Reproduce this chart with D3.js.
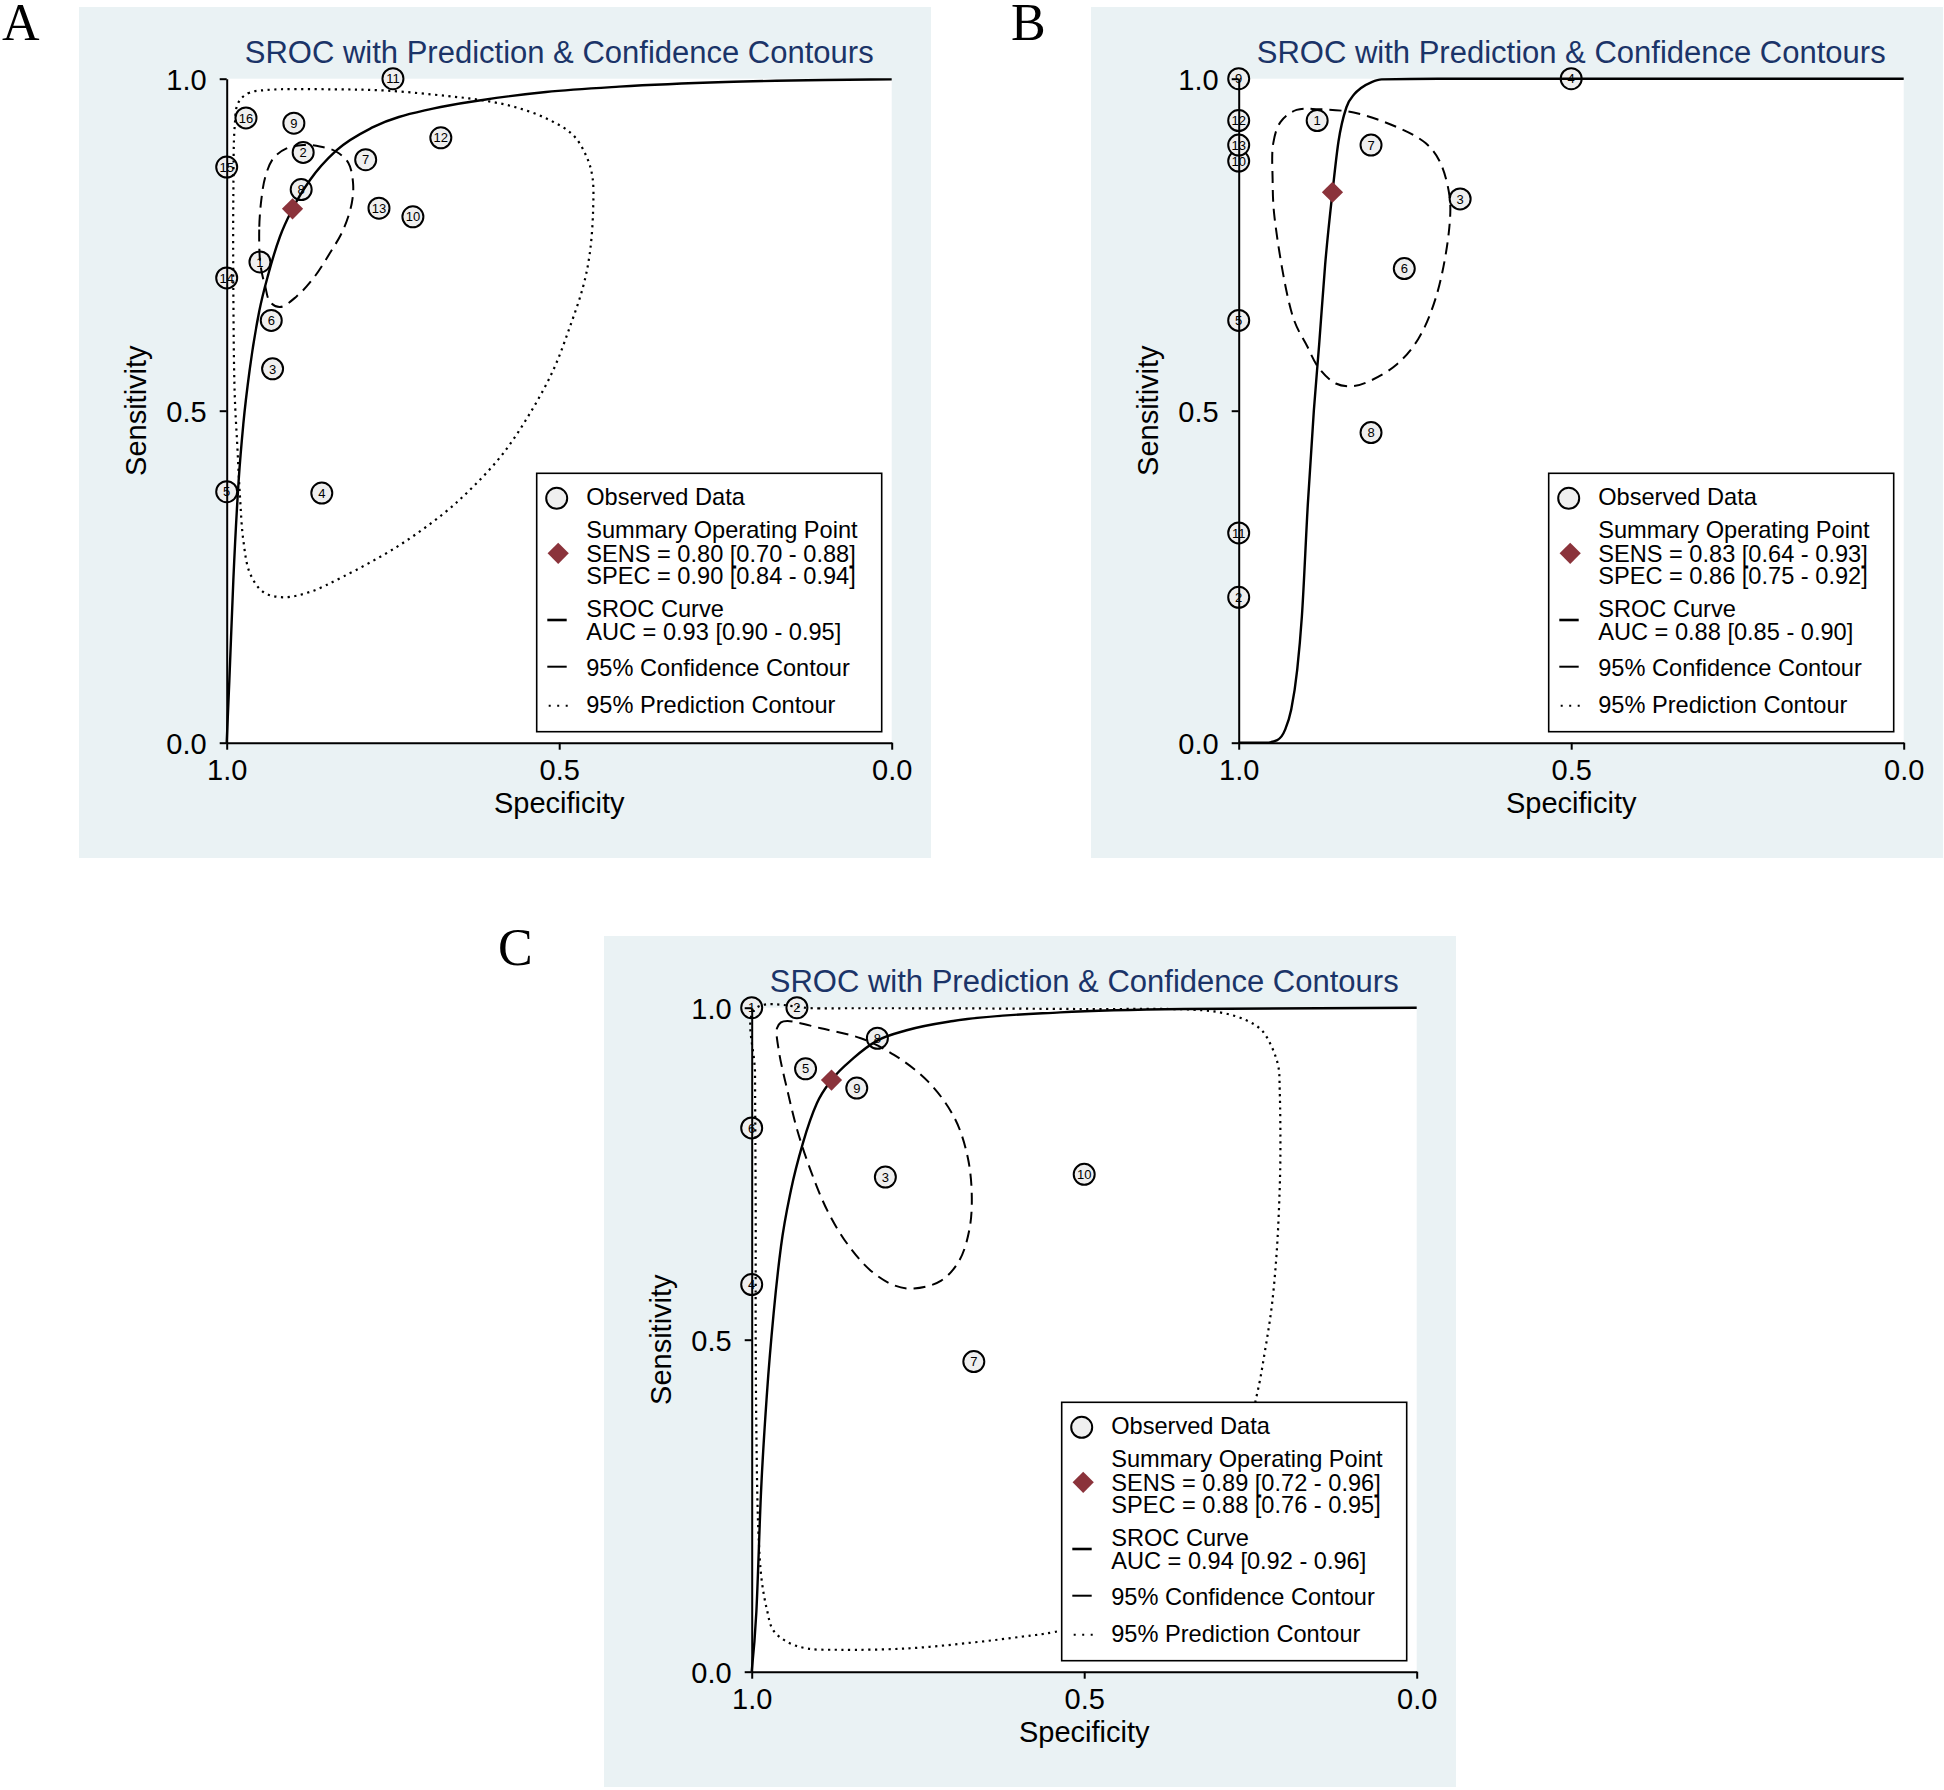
<!DOCTYPE html>
<html>
<head>
<meta charset="utf-8">
<script src="https://cdn.jsdelivr.net/npm/d3@7"></script>
<style>
  body { margin: 0; background: #fff; }
  text { font-family: "Liberation Sans", Arial, sans-serif; }
</style>
</head>
<body>
<div id="chart"></div>
<script>
//---- data: [study id, specificity, sensitivity] ----
var studiesA = [
  [1, 0.950, 0.724], [2, 0.885, 0.889], [3, 0.931, 0.563], [4, 0.857, 0.376],
  [5, 1.000, 0.378], [6, 0.933, 0.636], [7, 0.791, 0.878], [8, 0.888, 0.833],
  [9, 0.899, 0.933], [10, 0.720, 0.792], [11, 0.750, 1.000], [12, 0.678, 0.911],
  [13, 0.771, 0.805], [14, 1.000, 0.700], [15, 1.000, 0.867], [16, 0.971, 0.941]
];
var studiesB = [
  [1, 0.882, 0.937], [2, 1.000, 0.219], [3, 0.667, 0.819], [4, 0.500, 1.000],
  [5, 1.000, 0.636], [6, 0.751, 0.714], [7, 0.801, 0.900], [8, 0.801, 0.467],
  [9, 1.000, 1.000], [10, 1.000, 0.876], [11, 1.000, 0.316], [12, 1.000, 0.937],
  [13, 1.000, 0.900]
];
var studiesC = [
  [1, 1.000, 1.000], [2, 0.932, 1.000], [3, 0.799, 0.745], [4, 1.000, 0.583],
  [5, 0.919, 0.908], [6, 1.000, 0.819], [7, 0.666, 0.467], [8, 0.811, 0.954],
  [9, 0.842, 0.879], [10, 0.500, 0.749]
];

//summary operating points [spec, sens]
var summaryA = [0.901, 0.804];
var summaryB = [0.859, 0.829];
var summaryC = [0.880, 0.891];

//SROC curves [spec, sens], spec decreasing
var srocA = [[1.0, 0.0], [0.996, 0.094], [0.990, 0.245], [0.982, 0.395], [0.975, 0.480],
  [0.965, 0.565], [0.951, 0.650], [0.937, 0.707], [0.920, 0.762], [0.901, 0.804],
  [0.875, 0.847], [0.835, 0.892], [0.780, 0.927], [0.690, 0.955], [0.615, 0.968],
  [0.520, 0.980], [0.410, 0.988], [0.250, 0.995], [0.100, 0.998], [0.0, 0.999]];
var srocB = [[1.0, 0.0], [0.960, 0.0], [0.942, 0.004], [0.930, 0.020], [0.921, 0.050],
  [0.912, 0.110], [0.905, 0.190], [0.896, 0.360], [0.887, 0.500], [0.879, 0.600],
  [0.870, 0.720], [0.859, 0.829], [0.850, 0.905], [0.838, 0.957], [0.826, 0.977],
  [0.816, 0.986], [0.800, 0.995], [0.785, 0.999], [0.700, 1.0], [0.0, 1.0]];
var srocC = [[1.0, 0.0], [0.993, 0.090], [0.986, 0.270], [0.977, 0.420], [0.967, 0.540],
  [0.956, 0.640], [0.941, 0.725], [0.923, 0.796], [0.902, 0.856], [0.880, 0.891],
  [0.847, 0.924], [0.812, 0.950], [0.767, 0.966], [0.697, 0.980], [0.536, 0.993],
  [0.350, 0.998], [0.0, 1.0]];

//95% confidence contours
var confA = [[0.950, 0.727], [0.951, 0.777], [0.948, 0.817], [0.942, 0.852], [0.930, 0.880],
  [0.910, 0.895], [0.885, 0.900], [0.860, 0.898], [0.835, 0.890], [0.817, 0.873],
  [0.810, 0.843], [0.812, 0.812], [0.825, 0.772], [0.845, 0.737], [0.870, 0.699],
  [0.895, 0.672], [0.920, 0.656], [0.935, 0.664], [0.942, 0.687], [0.947, 0.707]];
var confB = [[0.949, 0.849], [0.948, 0.903], [0.937, 0.935], [0.913, 0.953], [0.880, 0.954],
  [0.827, 0.949], [0.762, 0.927], [0.719, 0.903], [0.698, 0.876], [0.683, 0.823],
  [0.684, 0.769], [0.703, 0.672], [0.730, 0.608], [0.762, 0.570], [0.800, 0.546],
  [0.827, 0.537], [0.854, 0.541], [0.880, 0.565], [0.897, 0.597], [0.918, 0.640],
  [0.946, 0.790]];
var confC = [[0.962, 0.969], [0.956, 0.978], [0.946, 0.980], [0.896, 0.969], [0.836, 0.954],
  [0.786, 0.929], [0.735, 0.889], [0.695, 0.834], [0.675, 0.774], [0.669, 0.714],
  [0.673, 0.664], [0.688, 0.619], [0.715, 0.589], [0.756, 0.577], [0.786, 0.582],
  [0.821, 0.604], [0.856, 0.644], [0.886, 0.694], [0.911, 0.754], [0.931, 0.814],
  [0.946, 0.874], [0.959, 0.934]];

//95% prediction contours (none visible in B)
var predA = [[0.983, 0.963], [0.968, 0.978], [0.940, 0.983], [0.840, 0.984], [0.759, 0.982],
  [0.669, 0.974], [0.619, 0.968], [0.569, 0.958], [0.519, 0.940], [0.479, 0.915],
  [0.459, 0.883], [0.450, 0.852], [0.449, 0.802], [0.454, 0.737], [0.464, 0.687],
  [0.484, 0.626], [0.509, 0.561], [0.544, 0.496], [0.584, 0.436], [0.629, 0.386],
  [0.674, 0.345], [0.744, 0.295], [0.825, 0.250], [0.875, 0.227], [0.915, 0.219],
  [0.945, 0.227], [0.965, 0.255], [0.975, 0.305], [0.980, 0.370], [0.984, 0.446],
  [0.988, 0.526], [0.990, 0.677], [0.990, 0.827], [0.988, 0.928]];
var predB = [];
var predC = [[0.995, 0.998], [0.900, 0.999], [0.700, 0.999], [0.500, 0.998], [0.336, 0.997],
  [0.291, 0.992], [0.256, 0.981], [0.233, 0.966], [0.218, 0.941], [0.208, 0.911],
  [0.206, 0.876], [0.205, 0.776], [0.207, 0.700], [0.211, 0.625], [0.218, 0.550],
  [0.228, 0.484], [0.241, 0.414], [0.320, 0.120], [0.544, 0.060], [0.592, 0.053],
  [0.667, 0.044], [0.767, 0.035], [0.867, 0.033], [0.917, 0.035], [0.947, 0.045],
  [0.968, 0.063], [0.977, 0.093], [0.985, 0.138], [0.990, 0.213], [0.993, 0.364],
  [0.994, 0.514], [0.994, 0.700], [0.995, 0.900]];

//legend texts
var sensTxt = ["SENS = 0.80 [0.70 - 0.88]", "SENS = 0.83 [0.64 - 0.93]", "SENS = 0.89 [0.72 - 0.96]"];
var specTxt = ["SPEC = 0.90 [0.84 - 0.94]", "SPEC = 0.86 [0.75 - 0.92]", "SPEC = 0.88 [0.76 - 0.95]"];
var aucTxt = ["AUC = 0.93 [0.90 - 0.95]", "AUC = 0.88 [0.85 - 0.90]", "AUC = 0.94 [0.92 - 0.96]"];
var panelLabels = ["A", "B", "C"];
var tickVals = [0, 0.5, 1];

//---- layout ----
const W = 1944, H = 1790;
const plotW = 665, plotH = 664;
const bgColor = "#eaf2f4";
const titleColor = "#1b3468";
const diamondColor = "#8b333b";
var panelPos = [[0, 0], [1012, 0], [525, 929]];
var labelPos = [[2, 40], [1011, 40], [498, 965]];

var svg = d3.select("#chart").append("svg")
  .attr("width", W)
  .attr("height", H);
svg.append("rect").attr("width", W).attr("height", H).attr("fill", "#fff");

function drawPanel(i, studies, summary, sroc, conf, pred) {
  var g = svg.append("g")
    .attr("transform", "translate(" + panelPos[i][0] + "," + panelPos[i][1] + ")");

  //graph region
  g.append("rect")
    .attr("x", 79).attr("y", 7)
    .attr("width", 852).attr("height", 851)
    .attr("fill", bgColor);

  //title
  g.append("text")
    .attr("x", 226.7 + plotW / 2).attr("y", 63.3)
    .attr("text-anchor", "middle")
    .attr("font-size", 31)
    .attr("fill", titleColor)
    .text("SROC with Prediction & Confidence Contours");

  var plot = g.append("g").attr("transform", "translate(226.7,78.7)");
  plot.append("rect").attr("width", plotW).attr("height", plotH).attr("fill", "#fff");

  var x = d3.scaleLinear().domain([1, 0]).range([0, plotW]);
  var y = d3.scaleLinear().domain([0, 1]).range([plotH, 0]);

  var line = d3.line()
    .x(function(d) { return x(d[0]); })
    .y(function(d) { return y(d[1]); })
    .curve(d3.curveMonotoneX);
  var loop = d3.line()
    .x(function(d) { return x(d[0]); })
    .y(function(d) { return y(d[1]); })
    .curve(d3.curveCatmullRomClosed.alpha(0.5));

  //observed studies
  var obs = plot.selectAll(".obs")
    .data(studies)
    .join("g")
    .attr("class", "obs")
    .attr("transform", function(d) { return "translate(" + x(d[1]) + "," + y(d[2]) + ")"; });
  obs.append("circle")
    .attr("r", 10.5)
    .attr("fill", "#efefef")
    .attr("stroke", "#000")
    .attr("stroke-width", 2);
  obs.append("text")
    .attr("text-anchor", "middle")
    .attr("dy", "0.36em")
    .attr("font-size", 13)
    .text(function(d) { return d[0]; });

  //prediction contour
  if (pred.length > 0) {
    plot.append("path")
      .attr("d", loop(pred))
      .attr("fill", "none")
      .attr("stroke", "#000")
      .attr("stroke-width", 2.2)
      .attr("stroke-dasharray", "2.2,4.5");
  }

  //confidence contour
  plot.append("path")
    .attr("d", loop(conf))
    .attr("fill", "none")
    .attr("stroke", "#000")
    .attr("stroke-width", 2)
    .attr("stroke-dasharray", "12,7");

  //SROC curve
  plot.append("path")
    .attr("d", line(sroc))
    .attr("fill", "none")
    .attr("stroke", "#000")
    .attr("stroke-width", 2.4);

  //summary point
  plot.append("path")
    .attr("d", d3.symbol().type(d3.symbolSquare).size(225))
    .attr("transform", "translate(" + x(summary[0]) + "," + y(summary[1]) + ") rotate(45)")
    .attr("fill", diamondColor);

  //axes
  var yAxis = d3.axisLeft(y).tickValues(tickVals).tickFormat(d3.format(".1f"))
    .tickSize(7).tickSizeOuter(0).tickPadding(13);
  var xAxis = d3.axisBottom(x).tickValues(tickVals).tickFormat(d3.format(".1f"))
    .tickSize(7).tickSizeOuter(0).tickPadding(9.7);
  var ya = plot.append("g").call(yAxis);
  var xa = plot.append("g").attr("transform", "translate(0," + plotH + ")").call(xAxis);
  [ya, xa].forEach(function(a) {
    a.select(".domain").attr("stroke", "#000").attr("stroke-width", 2);
    a.selectAll(".tick line").attr("stroke", "#000").attr("stroke-width", 2);
    a.selectAll(".tick text")
      .attr("font-size", 29)
      .attr("fill", "#000");
  });
  ya.selectAll(".tick text").attr("dy", "0.36em");

  //axis titles
  g.append("text")
    .attr("x", 226.7 + plotW / 2).attr("y", 813)
    .attr("text-anchor", "middle")
    .attr("font-size", 29)
    .text("Specificity");
  g.append("text")
    .attr("transform", "translate(146," + (78.7 + plotH / 2) + ") rotate(-90)")
    .attr("text-anchor", "middle")
    .attr("font-size", 29)
    .text("Sensitivity");

  //legend
  var lg = g.append("g").attr("transform", "translate(536.7,473.3)");
  lg.append("rect")
    .attr("width", 345).attr("height", 258.4)
    .attr("fill", "#fff")
    .attr("stroke", "#000")
    .attr("stroke-width", 1.6);
  lg.append("circle")
    .attr("cx", 20).attr("cy", 25).attr("r", 10.5)
    .attr("fill", "#efefef").attr("stroke", "#000").attr("stroke-width", 2);
  lg.append("path")
    .attr("d", d3.symbol().type(d3.symbolSquare).size(225))
    .attr("transform", "translate(21.5,80) rotate(45)")
    .attr("fill", diamondColor);
  lg.append("line").attr("x1", 10.6).attr("x2", 30).attr("y1", 146.7).attr("y2", 146.7)
    .attr("stroke", "#000").attr("stroke-width", 2.6);
  lg.append("line").attr("x1", 10.6).attr("x2", 30).attr("y1", 193.4).attr("y2", 193.4)
    .attr("stroke", "#000").attr("stroke-width", 2);
  lg.append("line").attr("x1", 12).attr("x2", 31).attr("y1", 232.4).attr("y2", 232.4)
    .attr("stroke", "#000").attr("stroke-width", 2).attr("stroke-dasharray", "2,6.5");

  var rows = [
    ["Observed Data", 31.7],
    ["Summary Operating Point", 64.4],
    [sensTxt[i], 88.4],
    [specTxt[i], 111],
    ["SROC Curve", 143.4],
    [aucTxt[i], 166.7],
    ["95% Confidence Contour", 202.4],
    ["95% Prediction Contour", 240]
  ];
  lg.selectAll(".lt")
    .data(rows)
    .join("text")
    .attr("class", "lt")
    .attr("x", 49.5)
    .attr("y", function(d) { return d[1]; })
    .attr("font-size", 23.6)
    .text(function(d) { return d[0]; });
}

drawPanel(0, studiesA, summaryA, srocA, confA, predA);
drawPanel(1, studiesB, summaryB, srocB, confB, predB);
drawPanel(2, studiesC, summaryC, srocC, confC, predC);

//panel letters (serif, as in the figure)
svg.selectAll(".plabel")
  .data(panelLabels)
  .join("text")
  .attr("class", "plabel")
  .attr("x", function(d, i) { return labelPos[i][0]; })
  .attr("y", function(d, i) { return labelPos[i][1]; })
  .style("font-family", "'Liberation Serif', 'Times New Roman', serif")
  .attr("font-size", 52)
  .text(function(d) { return d; });
</script>
</body>
</html>
